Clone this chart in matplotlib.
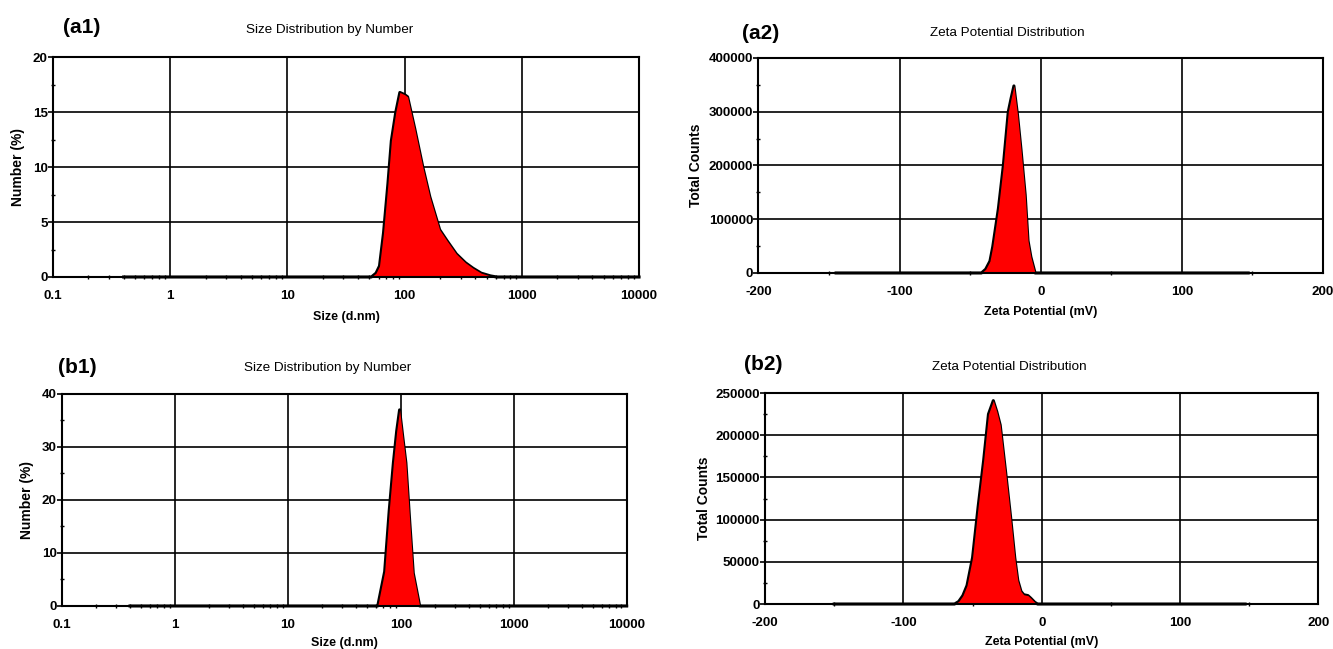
import numpy as np
import matplotlib.pyplot as plt
from matplotlib.ticker import FixedLocator, LogLocator, NullFormatter

plt.rcParams['font.family'] = ['Liberation Sans', 'DejaVu Sans']

# (a1) size distribution by number
size_a1 = [0.4, 52, 57, 61, 66, 72, 77, 84, 91, 100, 106, 122, 143, 164, 199,
           230, 276, 330, 383, 450, 540, 610, 10000]
num_a1 = [0, 0, 0.35, 1.0, 4, 8.5, 12.4, 15.0, 16.8, 16.6, 16.4, 13.5, 10, 7.3,
          4.3, 3.3, 2.1, 1.3, 0.8, 0.35, 0.1, 0, 0]

# (a2) zeta potential distribution
zeta_a2 = [-145, -42, -39, -36, -34, -30, -26.5, -23, -21, -19, -16.5, -14,
           -11, -9, -7, -4, 147]
counts_a2 = [0, 0, 7000, 22000, 49000, 120000, 200000, 300000, 325000, 348000,
             295000, 230000, 145000, 60000, 30000, 0, 0]

# (b1) size distribution by number
size_b1 = [0.4, 62.5, 72, 79, 86, 92, 97.6, 104, 111, 120, 129, 147, 10000]
num_b1 = [0, 0, 6.5, 18, 27, 33, 37, 32, 27, 16, 6.2, 0, 0]

# (b2) zeta potential distribution
zeta_b2 = [-150, -63, -60, -57, -54, -50, -46, -42, -38.5, -35, -32.5, -30,
           -26, -22.5, -19.5, -17.3, -15, -13, -10, -8, -5, -3, 147]
counts_b2 = [0, 0, 3000, 10000, 22000, 55000, 115000, 170000, 225000, 241000,
             228000, 212000, 155000, 103000, 55000, 28000, 15000, 11000, 10000,
             7000, 2000, 0, 0]

size_ticks = [0.1, 1, 10, 100, 1000, 10000]
size_labels = ['0.1', '1', '10', '100', '1000', '10000']
zeta_ticks = [-200, -100, 0, 100, 200]
zeta_minor = [-150, -50, 50, 150]

tick_font = dict(weight='bold', size=9.6)
lab_font = dict(weight='bold', size=9)


def draw(ax, x, y, ymax, ystep, xlab, ylab, ylab_x, xlab_y):
    # thick outline under the fill: shows full width only on the flat baseline
    ax.plot(x, y, color='black', lw=2.2, zorder=2.5, clip_on=False,
            solid_joinstyle='round')
    ax.fill_between(x, y, 0, color='#ff0000', lw=0, zorder=3)
    ax.set_ylim(0, ymax)
    yt = np.arange(0, ymax + ystep / 2, ystep)
    ax.set_yticks(yt)
    ax.set_yticklabels([f'{int(v)}' for v in yt], fontdict=tick_font)
    ax.yaxis.set_minor_locator(FixedLocator(yt[:-1] + ystep / 2))
    ax.tick_params(axis='y', which='major', direction='out', length=3.3, width=1.2, pad=0.6)
    ax.tick_params(axis='y', which='minor', direction='inout', length=3.5, width=1.0)
    ax.tick_params(axis='x', which='major', length=0, pad=9.2)
    ax.tick_params(axis='x', which='minor', direction='inout', length=3.5, width=1.0)
    ax.grid(True, which='major', color='black', lw=1.2, zorder=1)
    ax.set_axisbelow(True)
    for s in ax.spines.values():
        s.set_linewidth(1.5)
        s.set_zorder(5)
    ax.set_xlabel(xlab, fontdict=lab_font, va='center')
    ax.xaxis.set_label_coords(0.5, xlab_y)
    ax.set_ylabel(ylab, weight='bold', size=10, va='center')
    ax.yaxis.set_label_coords(ylab_x, 0.5)


fig = plt.figure(figsize=(13.33, 6.49), dpi=100)

ax1 = fig.add_axes([0.0398, 0.5732, 0.4396, 0.3385])
ax1.set_xscale('log')
ax1.set_xlim(0.1, 10000)
ax1.set_xticks(size_ticks)
ax1.set_xticklabels(size_labels, fontdict=tick_font)
ax1.xaxis.set_minor_locator(LogLocator(base=10, subs=np.arange(2, 10)))
ax1.xaxis.set_minor_formatter(NullFormatter())
draw(ax1, size_a1, num_a1, 20, 5, 'Size (d.nm)', 'Number (%)', -0.060, -0.181)

ax2 = fig.add_axes([0.569, 0.5794, 0.4235, 0.3313])
ax2.set_xlim(-200, 200)
ax2.set_xticks(zeta_ticks)
ax2.set_xticklabels([str(v) for v in zeta_ticks], fontdict=tick_font)
ax2.xaxis.set_minor_locator(FixedLocator(zeta_minor))
draw(ax2, zeta_a2, counts_a2, 400000, 100000, 'Zeta Potential (mV)', 'Total Counts', -0.111, -0.181)

ax3 = fig.add_axes([0.0465, 0.0663, 0.4236, 0.3267])
ax3.set_xscale('log')
ax3.set_xlim(0.1, 10000)
ax3.set_xticks(size_ticks)
ax3.set_xticklabels(size_labels, fontdict=tick_font)
ax3.xaxis.set_minor_locator(LogLocator(base=10, subs=np.arange(2, 10)))
ax3.xaxis.set_minor_formatter(NullFormatter())
draw(ax3, size_b1, num_b1, 40, 10, 'Size (d.nm)', 'Number (%)', -0.062, -0.175)

ax4 = fig.add_axes([0.5739, 0.0693, 0.4152, 0.3251])
ax4.set_xlim(-200, 200)
ax4.set_xticks(zeta_ticks)
ax4.set_xticklabels([str(v) for v in zeta_ticks], fontdict=tick_font)
ax4.xaxis.set_minor_locator(FixedLocator(zeta_minor))
draw(ax4, zeta_b2, counts_b2, 250000, 50000, 'Zeta Potential (mV)', 'Total Counts', -0.110, -0.179)

# titles and panel letters
title_kw = dict(size=9.7, ha='center', va='center')
fig.text(0.2476, 0.9538, 'Size Distribution by Number', **title_kw)
fig.text(0.7555, 0.949, 'Zeta Potential Distribution', **title_kw)
fig.text(0.246, 0.433, 'Size Distribution by Number', **title_kw)
fig.text(0.757, 0.435, 'Zeta Potential Distribution', **title_kw)

panel_kw = dict(size=15, weight='bold', ha='left', va='center')
fig.text(0.0473, 0.958, '(a1)', **panel_kw)
fig.text(0.5563, 0.949, '(a2)', **panel_kw)
fig.text(0.0435, 0.433, '(b1)', **panel_kw)
fig.text(0.5585, 0.4376, '(b2)', **panel_kw)

fig.savefig('out.png', dpi=100)
